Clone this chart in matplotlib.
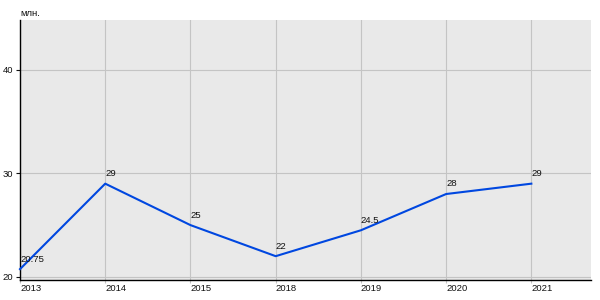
import matplotlib
matplotlib.use("Agg")
import matplotlib.pyplot as plt

years = ["2013", "2014", "2015", "2018", "2019", "2020", "2021"]
values = [20.75, 29, 25, 22, 24.5, 28, 29]
value_labels = ["20.75", "29", "25", "22", "24.5", "28", "29"]
yticks = [20, 30, 40]

plt.rcParams['font.family'] = ['Liberation Sans', 'DejaVu Sans']

fig = plt.figure(figsize=(6, 3), dpi=100)
ax = fig.add_axes([20/600, 20/300, 571/600, 260/300])
ax.set_facecolor('#e9e9e9')
x = list(range(len(years)))
ax.plot(x, values, color='#0047e0', lw=1.5, zorder=3, clip_on=False)
for xi, v, lab in zip(x, values, value_labels):
    ax.annotate(lab, (xi, v), xytext=(0, 4), textcoords='offset points',
                ha='left', va='bottom', fontsize=6.8, color='#111111')
ax.set_xlim(0, 6.7)
ax.set_ylim(19.7, 44.8)
ax.set_xticks(x)
ax.set_xticklabels(years, ha='left')
ax.set_yticks(yticks)
ax.grid(True, color='#c4c4c4', lw=0.8)
ax.set_axisbelow(True)
for s in ['top', 'right']:
    ax.spines[s].set_visible(False)
ax.spines['left'].set_linewidth(1.0)
ax.spines['bottom'].set_linewidth(1.0)
ax.tick_params(axis='both', labelsize=6.8, length=3, width=0.8, colors='#111111', pad=2)
ax.tick_params(axis='x', length=2, color='#c4c4c4', pad=1)
fig.text(20/600, 1 - 13/300, "млн.", fontsize=6.8, ha='left', va='center', color='#111111')
fig.savefig("out.png", dpi=100)
